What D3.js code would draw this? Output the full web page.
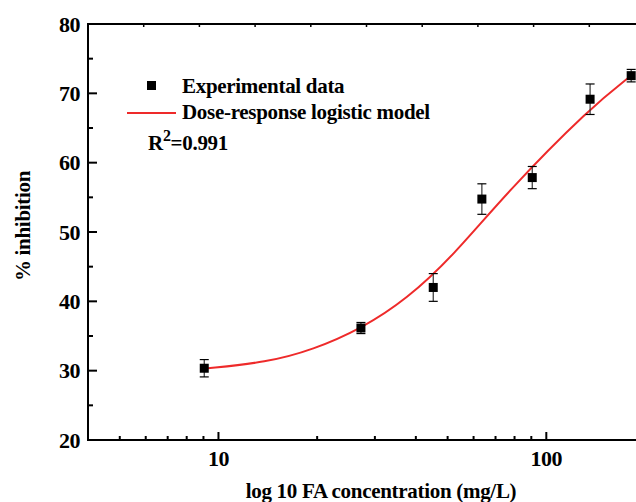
<!DOCTYPE html>
<html>
<head>
<meta charset="utf-8">
<script src="https://cdn.jsdelivr.net/npm/d3@7"></script>
<style>
  body { margin: 0; background: #fff; }
  svg { display: block; }
  text { font-family: "Liberation Serif", "Times New Roman", serif; font-weight: bold; fill: #000; }
</style>
</head>
<body>
<svg id="chart"></svg>
<script>
const concentration = [9.05, 27.2, 45.2, 63.6, 90.6, 136, 181.5];
const inhibition = [30.35, 36.15, 42.0, 54.75, 57.85, 69.15, 72.55];
const errors = [1.25, 0.8, 2.0, 2.2, 1.6, 2.2, 0.9];

// Fitted dose-response logistic curve
const fitX = [9.1, 14.05, 19.4, 27.4, 37.5, 52.1, 75.7, 136, 182];
const fitY = [30.3, 31.2, 33.0, 36.1, 40.3, 46.6, 55.7, 67.9, 72.6];

const xTickValues = [10, 100];
const xMinorTicks = [5, 6, 7, 8, 9, 20, 30, 40, 50, 60, 70, 80, 90];
const yTickValues = [20, 30, 40, 50, 60, 70, 80];
const yMinorTicks = [25, 35, 45, 55, 65, 75];

const width = 636, height = 502;
const margin = {top: 24, right: -9, bottom: 62, left: 88};

const svg = d3.select("#chart")
  .attr("width", width)
  .attr("height", height);

const x = d3.scaleLog()
  .domain([4, 200])
  .range([margin.left, width - margin.right]);

const y = d3.scaleLinear()
  .domain([20, 80])
  .range([height - margin.bottom, margin.top]);

const x0 = x.range()[0], x1 = x.range()[1];
const yb = y(20), yt = y(80);

// top axis ticks (equal spacing)
const topScale = d3.scaleLinear().domain([0, 10]).range([x0, x1]);
svg.append("g")
  .selectAll("line")
  .data(d3.range(1, 10))
  .join("line")
  .attr("x1", d => topScale(d)).attr("x2", d => topScale(d))
  .attr("y1", yt).attr("y2", yt + 3)
  .attr("stroke", "#000").attr("stroke-width", 1.5);

// axis lines
svg.append("line")
  .attr("x1", x0).attr("x2", x1).attr("y1", yt).attr("y2", yt)
  .attr("stroke", "#000").attr("stroke-width", 2);
svg.append("line")
  .attr("x1", x0).attr("x2", x1).attr("y1", yb).attr("y2", yb)
  .attr("stroke", "#000").attr("stroke-width", 2);
svg.append("line")
  .attr("x1", x0).attr("x2", x0).attr("y1", yt - 1).attr("y2", yb + 1)
  .attr("stroke", "#000").attr("stroke-width", 2);

// bottom axis
const xAxis = svg.append("g");
xAxis.selectAll(".major")
  .data(xTickValues)
  .join("line")
  .attr("x1", d => x(d)).attr("x2", d => x(d))
  .attr("y1", yb).attr("y2", yb - 8)
  .attr("stroke", "#000").attr("stroke-width", 2);
xAxis.selectAll(".minor")
  .data(xMinorTicks)
  .join("line")
  .attr("x1", d => x(d)).attr("x2", d => x(d))
  .attr("y1", yb).attr("y2", yb - 4)
  .attr("stroke", "#000").attr("stroke-width", 2);
xAxis.selectAll("text")
  .data(xTickValues)
  .join("text")
  .attr("x", d => x(d))
  .attr("y", yb + 26)
  .attr("text-anchor", "middle")
  .attr("font-size", 22)
  .attr("letter-spacing", -0.5)
  .text(d => d);

// left axis
const yAxis = svg.append("g");
yAxis.selectAll(".major")
  .data(yTickValues)
  .join("line")
  .attr("x1", x0).attr("x2", x0 + 9)
  .attr("y1", d => y(d)).attr("y2", d => y(d))
  .attr("stroke", "#000").attr("stroke-width", 2);
yAxis.selectAll(".minor")
  .data(yMinorTicks)
  .join("line")
  .attr("x1", x0).attr("x2", x0 + 5)
  .attr("y1", d => y(d)).attr("y2", d => y(d))
  .attr("stroke", "#000").attr("stroke-width", 2);
yAxis.selectAll("text")
  .data(yTickValues)
  .join("text")
  .attr("x", x0 - 8)
  .attr("y", d => y(d) + 7.5)
  .attr("text-anchor", "end")
  .attr("font-size", 22)
  .attr("letter-spacing", -0.5)
  .text(d => d);

// axis titles
svg.append("text")
  .attr("x", 381).attr("y", 498)
  .attr("text-anchor", "middle")
  .attr("font-size", 21)
  .attr("letter-spacing", -0.3)
  .text("log 10 FA concentration (mg/L)");
svg.append("text")
  .attr("transform", "translate(30,226) rotate(-90)")
  .attr("text-anchor", "middle")
  .attr("font-size", 21)
  .attr("letter-spacing", -0.3)
  .text("% inhibition");

// fitted curve
const fit = fitX.map((d, i) => [d, fitY[i]]);
svg.append("path")
  .datum(fit)
  .attr("fill", "none")
  .attr("stroke", "#ee2a2a")
  .attr("stroke-width", 2)
  .attr("d", d3.line().x(d => x(d[0])).y(d => y(d[1])).curve(d3.curveBasis));

// data points with error bars
const points = concentration.map((d, i) => ({c: d, v: inhibition[i], e: errors[i]}));
const pts = svg.append("g").selectAll("g")
  .data(points)
  .join("g");
pts.append("line")
  .attr("x1", d => x(d.c)).attr("x2", d => x(d.c))
  .attr("y1", d => y(d.v + d.e)).attr("y2", d => y(d.v - d.e))
  .attr("stroke", "#333").attr("stroke-width", 1.2);
pts.selectAll(".cap")
  .data(d => [d.v + d.e, d.v - d.e].map(v => ({c: d.c, v})))
  .join("line")
  .attr("x1", d => x(d.c) - 4.5).attr("x2", d => x(d.c) + 4.5)
  .attr("y1", d => y(d.v)).attr("y2", d => y(d.v))
  .attr("stroke", "#000").attr("stroke-width", 1.2);
pts.append("rect")
  .attr("x", d => x(d.c) - 4.5).attr("y", d => y(d.v) - 4.5)
  .attr("width", 9).attr("height", 9)
  .attr("fill", "#000");

// legend
const legend = svg.append("g");
legend.append("rect")
  .attr("x", 147).attr("y", 81).attr("width", 9).attr("height", 9)
  .attr("fill", "#000");
legend.append("text")
  .attr("x", 182).attr("y", 93)
  .attr("font-size", 21)
  .attr("letter-spacing", -0.3)
  .text("Experimental data");
legend.append("line")
  .attr("x1", 127).attr("x2", 176).attr("y1", 113).attr("y2", 113)
  .attr("stroke", "#ee2a2a").attr("stroke-width", 2);
legend.append("text")
  .attr("x", 182).attr("y", 119)
  .attr("font-size", 21)
  .attr("letter-spacing", -0.3)
  .text("Dose-response logistic model");
const r2 = legend.append("text")
  .attr("x", 148).attr("y", 150)
  .attr("font-size", 21)
  .attr("letter-spacing", -0.3);
r2.append("tspan").text("R");
r2.append("tspan").attr("font-size", 16).attr("dy", -9).text("2");
r2.append("tspan").attr("dy", 9).text("=0.991");
</script>
</body>
</html>
